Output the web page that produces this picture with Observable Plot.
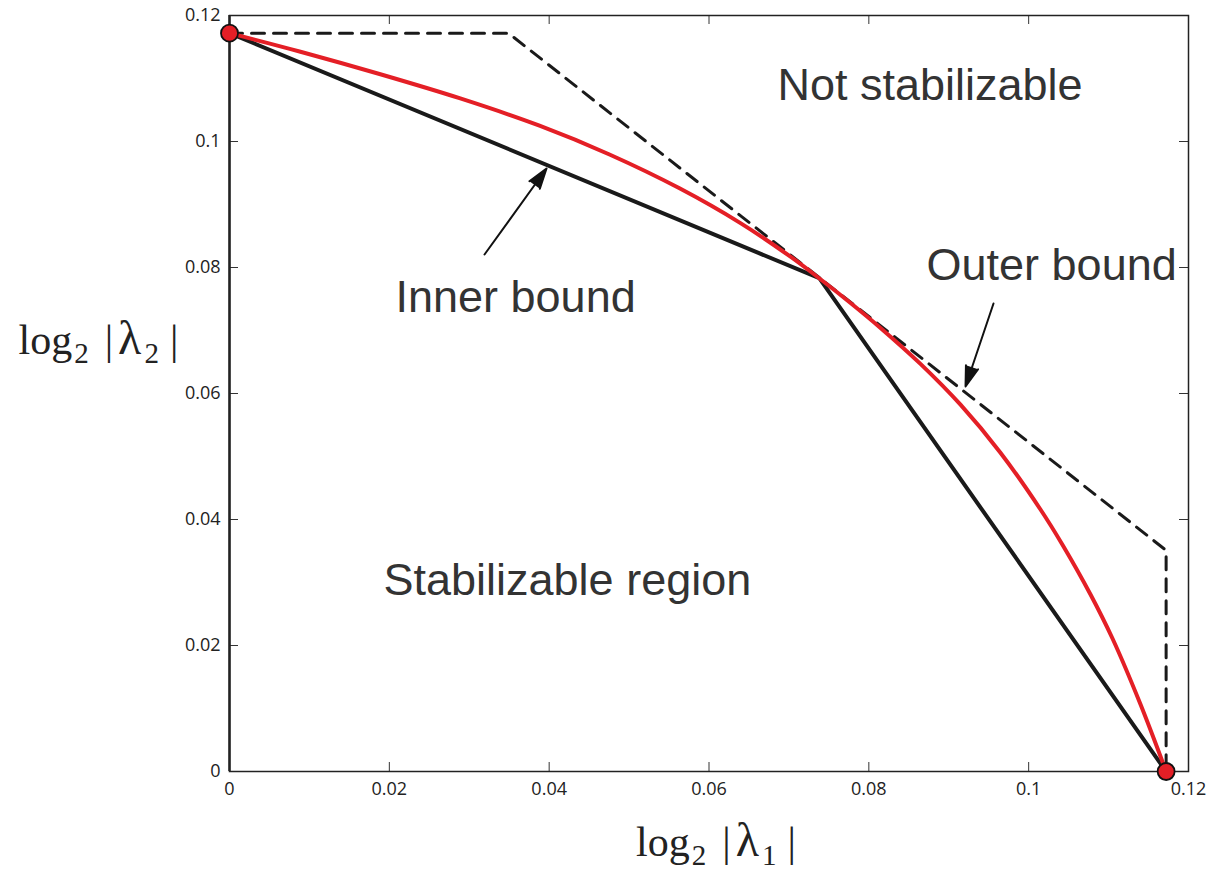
<!DOCTYPE html>
<html>
<head>
<meta charset="utf-8">
<script src="https://cdn.jsdelivr.net/npm/d3@7"></script>
<script src="https://cdn.jsdelivr.net/npm/@observablehq/plot@0.6"></script>
<style>
  html, body { margin: 0; padding: 0; background: #fff; }
  #chart { width: 1207px; height: 870px; }
</style>
</head>
<body>
<div id="chart"></div>
<script>
// ---- data ----
const xTicks = [0, 0.02, 0.04, 0.06, 0.08, 0.1, 0.12];
const yTicks = [0, 0.02, 0.04, 0.06, 0.08, 0.1, 0.12];
const tickLabels = ["0", "0.02", "0.04", "0.06", "0.08", "0.1", "0.12"];

// exact region boundary (red curve)
const curveX = [0, 0.00888, 0.01877, 0.02878, 0.03879, 0.04755, 0.05631, 0.06394, 0.07020,
  0.07383, 0.07771, 0.08146, 0.08646, 0.09147, 0.09647, 0.10148, 0.10423, 0.10774, 0.11049, 0.11399, 0.1172];
const curveY = [0.1172, 0.11425, 0.11071, 0.10687, 0.10251, 0.09794, 0.09257, 0.08705, 0.08171,
  0.07825, 0.07437, 0.07041, 0.06470, 0.05822, 0.05060, 0.04159, 0.03600, 0.02810, 0.02111, 0.01067, 0];

// inner bound (solid black polyline)
const innerX = [0, 0.0738, 0.1172];
const innerY = [0.1172, 0.0783, 0];

// outer bound (dashed polyline)
const outerX = [0, 0.0349, 0.1172, 0.1172];
const outerY = [0.1172, 0.1172, 0.0351, 0];

// end points (red dots)
const dotX = [0, 0.1172];
const dotY = [0.1172, 0];

// annotations
const noteText = ["Not stabilizable", "Outer bound", "Inner bound", "Stabilizable region"];
const noteX = [0.06857, 0.08722, 0.02077, 0.01927];
const noteY = [0.10651, 0.07794, 0.07286, 0.02794];

// arrows: tail -> head
const arrowX1 = [0.03191, 0.09560];
const arrowY1 = [0.08206, 0.07429];
const arrowX2 = [0.03967, 0.09210];
const arrowY2 = [0.09571, 0.06111];

// ---- tables built from the arrays ----
const curve = curveX.map((x, i) => ({x, y: curveY[i]}));
const inner = innerX.map((x, i) => ({x, y: innerY[i]}));
const outer = outerX.map((x, i) => ({x, y: outerY[i]}));
const dots = dotX.map((x, i) => ({x, y: dotY[i]}));
const notes = noteText.map((t, i) => ({t, x: noteX[i], y: noteY[i]}));
const arrows = arrowX1.map((x1, i) => ({x1, y1: arrowY1[i], x2: arrowX2[i], y2: arrowY2[i]}));
const fmt = d => tickLabels[xTicks.indexOf(d)];

const tickFont = "'Open Sans', 'Noto Sans', sans-serif";
const mathFont = "'Liberation Serif', 'DejaVu Serif', serif";

const plot = Plot.plot({
  width: 1207,
  height: 870,
  marginLeft: 229,
  marginRight: 19,
  marginTop: 15,
  marginBottom: 99,
  x: {domain: [0, 0.12], axis: null},
  y: {domain: [0, 0.12], axis: null},
  style: {background: "#fff", color: "#222", fontFamily: tickFont},
  marks: [
    // ticks pointing inward on all four sides
    Plot.tickX(xTicks, {x: d => d, stroke: "#333", strokeWidth: 1, insetTop: 747}),
    Plot.tickX(xTicks, {x: d => d, stroke: "#333", strokeWidth: 1, insetBottom: 747}),
    Plot.tickY(yTicks, {y: d => d, stroke: "#333", strokeWidth: 1, insetRight: 950}),
    Plot.tickY(yTicks, {y: d => d, stroke: "#333", strokeWidth: 1, insetLeft: 950}),
    Plot.frame({stroke: "#222", strokeWidth: 1.5}),
    Plot.ruleX([0], {stroke: "#222", strokeWidth: 2.5}),
    // tick labels
    Plot.text(xTicks, {x: d => d, frameAnchor: "bottom", lineAnchor: "top", dy: 11, text: fmt,
      fontSize: 18, fill: "#222", fontFamily: tickFont}),
    Plot.text(yTicks, {y: d => d, frameAnchor: "left", textAnchor: "end", dx: -9, text: fmt,
      fontSize: 18, fill: "#222", fontFamily: tickFont}),
    // outer bound (dashed)
    Plot.line(outer, {x: "x", y: "y", stroke: "#1a1a1a", strokeWidth: 3, strokeDasharray: "13,9", strokeLinejoin: "miter"}),
    // inner bound (solid)
    Plot.line(inner, {x: "x", y: "y", stroke: "#1a1a1a", strokeWidth: 4, strokeLinejoin: "miter"}),
    // exact boundary (red)
    Plot.line(curve, {x: "x", y: "y", stroke: "#e41f26", strokeWidth: 4, curve: "catmull-rom"}),
    // end points
    Plot.dot(dots, {x: "x", y: "y", r: 8.5, fill: "#e41f26", stroke: "#111", strokeWidth: 1.8}),
    // annotation arrows
    Plot.arrow(arrows, {x1: "x1", y1: "y1", x2: "x2", y2: "y2", stroke: "#111", fill: "#111",
      strokeWidth: 2, headLength: 16, headAngle: 35}),
    // annotation texts
    Plot.text(notes, {x: "x", y: "y", text: "t", textAnchor: "start", lineAnchor: "bottom",
      fontSize: 45, fill: "#333", fontFamily: "'Liberation Sans', Arial, sans-serif"}),
    // axis titles
    Plot.text(["log2 |λ2|"], {frameAnchor: "left", text: d => d, textAnchor: "start", lineAnchor: "bottom",
      dx: -211, dy: -40, fontSize: 42, fill: "#222", fontFamily: mathFont, className: "mathlabel-y"}),
    Plot.text(["log2 |λ1|"], {frameAnchor: "bottom", text: d => d, textAnchor: "middle", lineAnchor: "bottom",
      dx: 7, dy: 84, fontSize: 42, fill: "#222", fontFamily: mathFont, className: "mathlabel-x"})
  ]
});

document.getElementById("chart").appendChild(plot);

// typeset subscripts in the axis titles
function typeset(sel, sub) {
  d3.select(plot).selectAll(sel + " text").each(function () {
    const t = d3.select(this);
    t.text(null);
    t.append("tspan").text("log");
    t.append("tspan").attr("font-size", 29).attr("dy", 9).attr("dx", 2).text("2");
    t.append("tspan").attr("dy", -9).attr("dx", 16).text("|");
    t.append("tspan").attr("dx", 5).attr("font-size", 48).text("λ");
    t.append("tspan").attr("font-size", 29).attr("dy", 9).attr("dx", 3).text(sub);
    t.append("tspan").attr("dy", -9).attr("dx", 11).text("|");
  });
}
typeset(".mathlabel-y", "2");
typeset(".mathlabel-x", "1");
</script>
</body>
</html>
